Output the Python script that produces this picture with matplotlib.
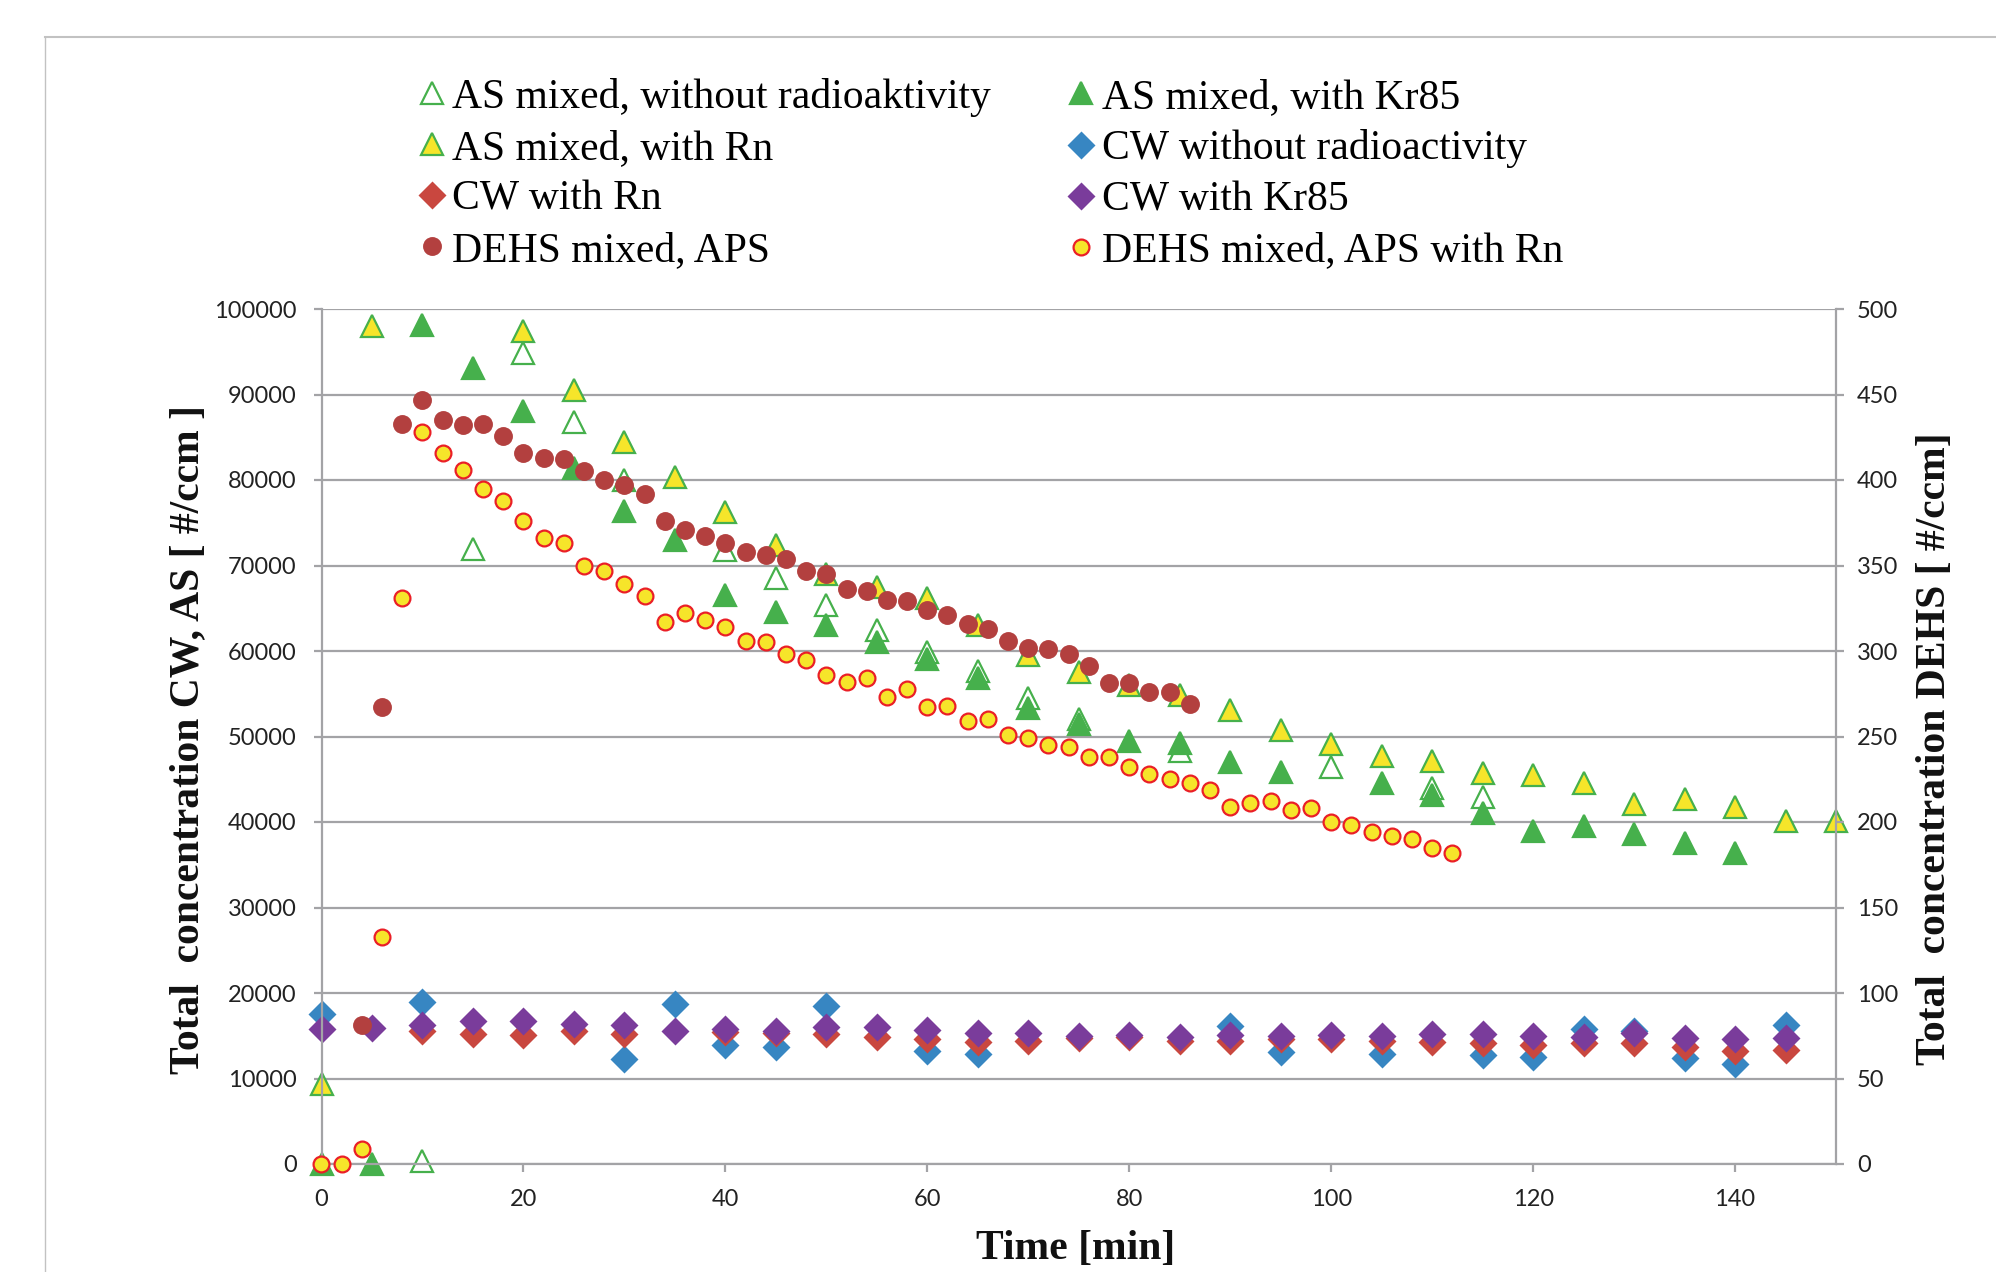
import matplotlib.pyplot as plt
from matplotlib.lines import Line2D

# ---- data ----
# AS mixed, without radioaktivity (left axis)
t_as_without = [10, 15, 20, 25, 30, 40, 45, 50, 55, 60, 65, 70, 75, 85, 100, 110, 115]
as_without = [300, 71900, 94900, 86800, 80000, 71800, 68500, 65400, 62500, 59900,
              57700, 54500, 52100, 48300, 46400, 44000, 42900]

# AS mixed, with Kr85 (left axis)
t_as_kr = [0, 5, 10, 15, 20, 25, 30, 35, 40, 45, 50, 55, 60, 65, 70, 75, 80, 85, 90, 95,
           105, 110, 115, 120, 125, 130, 135, 140]
as_kr = [0, 0, 98100, 93100, 88100, 81400, 76400, 73000, 66600, 64600, 63000, 61000,
         59100, 56800, 53300, 51500, 49500, 49200, 47000, 45800,
         44600, 43100, 41100, 39000, 39500, 38600, 37600, 36400]

# AS mixed, with Rn (left axis)
t_as_rn = [0, 5, 20, 25, 30, 35, 40, 45, 50, 55, 60, 65, 70, 75, 80, 85, 90, 95, 100,
           105, 110, 115, 120, 125, 130, 135, 140, 145, 150]
as_rn = [9400, 98000, 97400, 90500, 84500, 80400, 76300, 72400, 69000, 67500, 66200,
         63000, 59500, 57600, 56000, 54800, 53100, 50800, 49100, 47700, 47100, 45700,
         45500, 44600, 42100, 42700, 41700, 40100, 40100]

# CW without radioactivity (left axis)
t_cw_without = [0, 10, 30, 35, 40, 45, 50, 60, 65, 90, 95, 105, 115, 120, 125, 130, 135, 140, 145]
cw_without = [17500, 18900, 12300, 18700, 13900, 13700, 18500, 13200, 12900, 16100,
              13100, 12900, 12700, 12500, 15800, 15600, 12400, 11700, 16200]

# CW with Rn (left axis)
t_cw_rn = [10, 15, 20, 25, 30, 40, 45, 50, 55, 60, 65, 70, 75, 80, 85, 90, 95, 100,
           105, 110, 115, 120, 125, 130, 135, 140, 145]
cw_rn = [15600, 15200, 15100, 15600, 15200, 15400, 15300, 15200, 14800, 14600, 14300,
         14400, 14700, 14800, 14400, 14400, 14600, 14600, 14400, 14300, 14100, 13900,
         14100, 14100, 13700, 13200, 13300]

# CW with Kr85 (left axis)
t_cw_kr = [0, 5, 10, 15, 20, 25, 30, 35, 40, 45, 50, 55, 60, 65, 70, 75, 80, 85, 90, 95,
           100, 105, 110, 115, 120, 125, 130, 135, 140, 145]
cw_kr = [15800, 15900, 16300, 16700, 16700, 16400, 16200, 15600, 15800, 15600, 16000,
         16000, 15700, 15300, 15300, 15000, 15100, 14800, 15100, 15000, 15100, 15000,
         15200, 15200, 15000, 14800, 15300, 14700, 14600, 14700]

# DEHS mixed, APS (right axis)
t_dehs_aps = [4, 6, 8, 10, 12, 14, 16, 18, 20, 22, 24, 26, 28, 30, 32, 34, 36, 38, 40, 42,
              44, 46, 48, 50, 52, 54, 56, 58, 60, 62, 64, 66, 68, 70, 72, 74, 76, 78, 80,
              82, 84, 86]
dehs_aps = [81, 267, 433, 447, 435, 432, 433, 426, 416, 413, 412, 405, 400, 397, 392, 376,
            371, 367, 363, 358, 356, 354, 347, 345, 336, 335, 330, 329, 324, 321, 316, 313,
            306, 302, 301, 298, 291, 281, 281, 276, 276, 269]

# DEHS mixed, APS with Rn (right axis)
t_dehs_rn = list(range(0, 113, 2))
dehs_rn = [0, 0, 9, 133, 331, 428, 416, 406, 395, 388, 376, 366, 363, 350, 347, 339, 332,
           317, 322, 318, 314, 306, 305, 298, 295, 286, 282, 284, 273, 278, 267, 268, 259,
           260, 251, 249, 245, 244, 238, 238, 232, 228, 225, 223, 219, 209, 211, 212, 207,
           208, 200, 198, 194, 192, 190, 185, 182]

x_ticks = [0, 20, 40, 60, 80, 100, 120, 140]

# ---- style ----
plt.rcParams['font.family'] = ['Lato', 'DejaVu Sans']
grid_col = '#a3a3a6'
green = '#46b04c'
yellow = '#f6e52a'
red_edge = '#ea1f26'
brown = '#b3403f'
blue = '#3786c2'
red = '#c9473f'
purple = '#7a3c9b'
serif = 'Liberation Serif'

W, H = 1996, 1272
fig = plt.figure(figsize=(W / 100, H / 100), dpi=100)
ax = fig.add_axes([321.5 / W, 1 - 1164 / H, (1836 - 321.5) / W, (1164 - 309) / H])
ax2 = ax.twinx()

common = dict(ls='none', clip_on=False)
h1, = ax.plot(t_as_without, as_without, marker='^', ms=16, mfc='white', mec=green, mew=1.6,
              label='AS mixed, without radioaktivity', **common)
h2, = ax.plot(t_as_kr, as_kr, marker='^', ms=16, mfc=green, mec=green, mew=1.6,
              label='AS mixed, with Kr85', **common)
h3, = ax.plot(t_as_rn, as_rn, marker='^', ms=16, mfc=yellow, mec=green, mew=1.6,
              label='AS mixed, with Rn', **common)
h4, = ax.plot(t_cw_without, cw_without, marker='D', ms=14, mfc=blue, mec='none',
              label='CW without radioactivity', **common)
h5, = ax.plot(t_cw_rn, cw_rn, marker='D', ms=14, mfc=red, mec='none',
              label='CW with Rn', **common)
h6, = ax.plot(t_cw_kr, cw_kr, marker='D', ms=14, mfc=purple, mec='none',
              label='CW with Kr85', **common)
h7, = ax2.plot(t_dehs_aps, dehs_aps, marker='o', ms=13.6, mfc=brown, mec='none',
               label='DEHS mixed, APS', **common)
h8, = ax2.plot(t_dehs_rn, dehs_rn, marker='o', ms=11.4, mfc=yellow, mec=red_edge, mew=1.6,
               label='DEHS mixed, APS with Rn', **common)

ax.set_xlim(0, 150)
ax.set_ylim(0, 100000)
ax2.set_ylim(0, 500)
ax.set_xticks(x_ticks)
ax.set_yticks(range(0, 100001, 10000))
ax2.set_yticks(range(0, 501, 50))

ax.yaxis.grid(True, color=grid_col, lw=1.6)
ax.set_axisbelow(True)
for s in ['top', 'right']:
    ax.spines[s].set_visible(False)
for s in ['left', 'bottom']:
    ax.spines[s].set_color(grid_col)
    ax.spines[s].set_linewidth(1.6)
for s in ['top', 'left', 'bottom']:
    ax2.spines[s].set_visible(False)
ax2.spines['right'].set_color(grid_col)
ax2.spines['right'].set_linewidth(1.6)

ax.tick_params(axis='y', length=6, width=1.6, color=grid_col, pad=12,
               labelsize=17, labelcolor='#222222')
ax.tick_params(axis='x', length=6, width=1.6, color=grid_col, pad=12,
               labelsize=17, labelcolor='#222222')
ax2.tick_params(axis='y', length=6, width=1.6, color=grid_col, pad=9,
                labelsize=17, labelcolor='#222222')

# axis titles
lab = dict(fontfamily=serif, fontweight='bold', fontsize=30, color='#111111')
fig.text(188 / W, 1 - 739 / H, 'Total  concentration CW, AS [ #/ccm ]',
         rotation=90, ha='center', va='center', **lab)
fig.text(1935 / W, 1 - 749 / H, 'Total  concentration DEHS [ #/ccm]',
         rotation=90, ha='center', va='center', **lab)
fig.text(1076 / W, 1 - 1249 / H, 'Time [min]', ha='center', va='center', **lab)

fig.legend(handles=[h1, h3, h5, h7, h2, h4, h6, h8], ncol=2, loc='upper left',
           bbox_to_anchor=(419 / W, 1 - 78 / H), bbox_transform=fig.transFigure,
           frameon=False, prop={'family': serif, 'size': 30}, numpoints=1,
           handlelength=0.6, handletextpad=0.2, columnspacing=1.85, labelspacing=0.3,
           borderpad=0, borderaxespad=0)

# outer frame of the chart area
frame_col = '#c2c2c2'
fig.add_artist(Line2D([44.5 / W, 1.0], [1 - 36.7 / H] * 2, color=frame_col, lw=1.5,
                      transform=fig.transFigure))
fig.add_artist(Line2D([44.5 / W] * 2, [0, 1 - 36.7 / H], color=frame_col, lw=1.0,
                      transform=fig.transFigure))

fig.savefig('out.png', dpi=100)
